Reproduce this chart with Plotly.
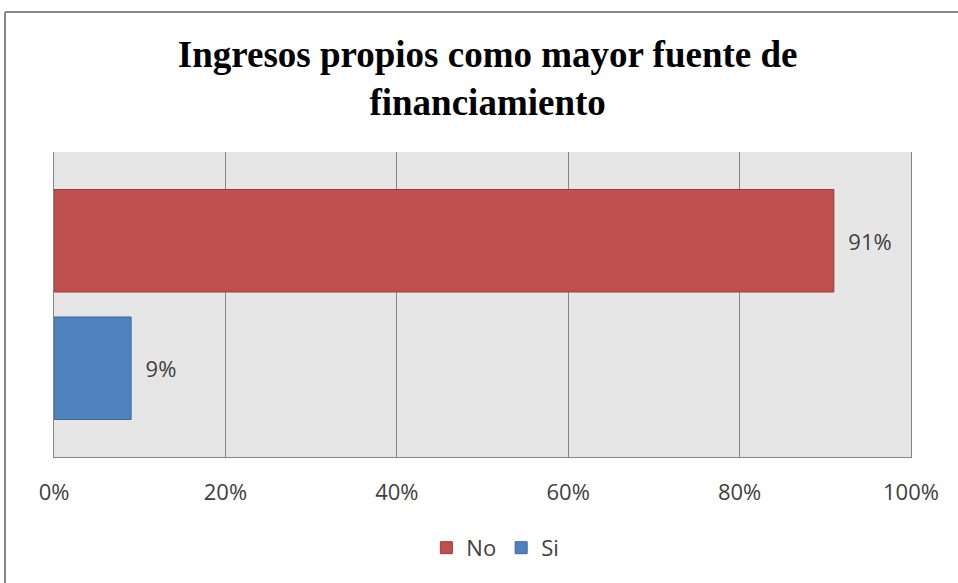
import plotly.graph_objects as go

# survey answers and share of respondents
categories = [""]
series_names = ["No", "Si"]
series_values = [[0.91], [0.09]]
series_colors = ["#C0504D", "#4F81BD"]
series_lines = ["#9B3D3A", "#3C6A9E"]
tick_values = [0, 0.2, 0.4, 0.6, 0.8, 1.0]
tick_labels = ["0%", "20%", "40%", "60%", "80%", "100%"]

label_font = dict(family="Open Sans", size=22, color="#404040")

fig = go.Figure()
for name, vals, col, lc in zip(series_names, series_values, series_colors, series_lines):
    fig.add_trace(
        go.Bar(
            y=categories,
            x=vals,
            name=name,
            orientation="h",
            marker=dict(color=col, line=dict(color=lc, width=1)),
            texttemplate="  %{x:.0%}",
            textposition="outside",
            textfont=label_font,
            cliponaxis=False,
        )
    )

fig.update_layout(
    width=958,
    height=583,
    margin=dict(l=54, r=47, t=152, b=126),
    paper_bgcolor="white",
    plot_bgcolor="#E6E6E6",
    barmode="group",
    bargap=0.164,
    bargroupgap=0.196,
    title=dict(
        text="Ingresos propios como mayor fuente de<br>financiamiento",
        font=dict(family="Liberation Serif", size=37, color="black", weight="bold"),
        x=0.509,
        xanchor="center",
        y=1 - 67 / 583,
        yanchor="middle",
        yref="container",
    ),
    legend=dict(
        orientation="h",
        x=0.515,
        xanchor="center",
        y=-0.298,
        yanchor="middle",
        font=label_font,
        itemwidth=30,
    ),
    showlegend=True,
)

fig.update_xaxes(
    range=[0, 1],
    tickvals=tick_values,
    ticktext=tick_labels,
    tickfont=label_font,
    showgrid=True,
    gridcolor="#878787",
    gridwidth=1,
    zeroline=False,
    showline=True,
    linecolor="#878787",
    ticks="",
    ticklabelstandoff=16,
)
fig.update_yaxes(
    autorange="reversed",
    showticklabels=False,
    showgrid=False,
    zeroline=False,
    showline=True,
    mirror=True,
    linecolor="#878787",
)

# chart frame (only top and left edges visible in the crop)
fig.add_shape(type="line", xref="paper", yref="paper",
              x0=(5 - 54) / 857, x1=(960 - 54) / 857,
              y0=(457 - 12) / 305, y1=(457 - 12) / 305,
              line=dict(color="#868686", width=2))
fig.add_shape(type="line", xref="paper", yref="paper",
              x0=(5 - 54) / 857, x1=(5 - 54) / 857,
              y0=(457 - 12) / 305, y1=(457 - 585) / 305,
              line=dict(color="#868686", width=2))

fig.write_html(
    "out.html",
    config={"displayModeBar": False},
    post_script="document.body.style.margin='0px';",
)
